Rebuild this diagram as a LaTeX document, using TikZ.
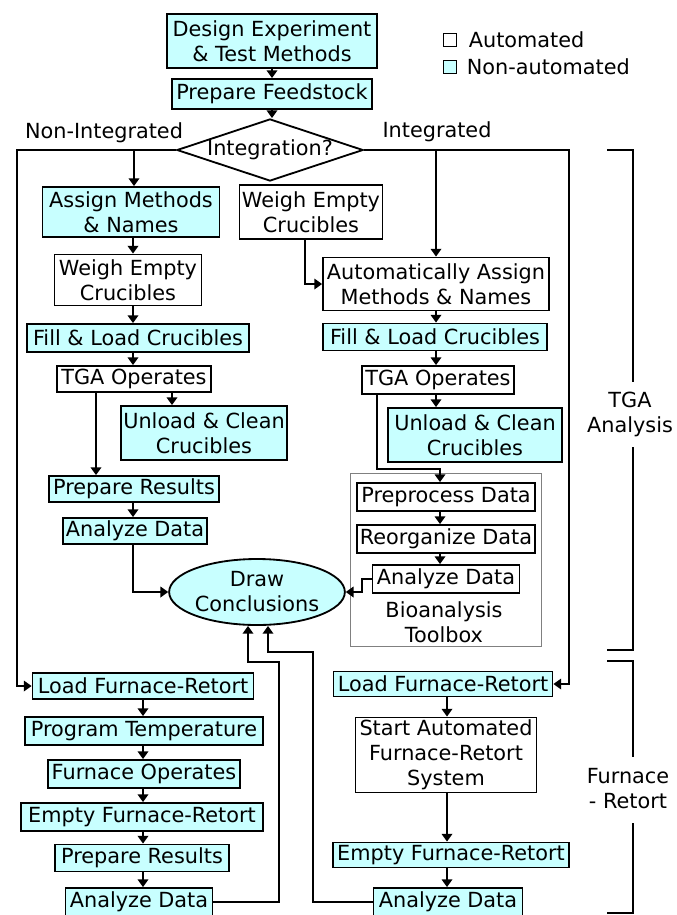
\documentclass[tikz,border=0pt]{standalone}
\usepackage{fontspec}
\setmainfont{DejaVu Sans}
\usetikzlibrary{arrows.meta,shapes,positioning,calc}
\definecolor{noauto}{RGB}{200,255,255}

\begin{document}
\begin{tikzpicture}[x=0.025cm,y=-0.025cm,
  every node/.style={font=\fontsize{14.8}{17.8}\selectfont},
  box/.style={draw, line width=1.3pt, fill=white, align=center, inner sep=1pt},
  manu/.style={box, fill=noauto},
  sz/.style 2 args={minimum width=#1*0.025cm, minimum height=#2*0.025cm},
  link/.style={line width=1.2pt, black, ->, >={Triangle[length=5.5pt,width=7.5pt]}}]
\useasboundingbox (0,0) rectangle (677,915);

% legende
\node[draw, line width=0.8pt, inner sep=0pt, sz={13}{13}] (kauto) at (450,40) {};
\node[draw, line width=0.8pt, inner sep=0pt, fill=noauto, sz={13}{13}] (kman) at (450,67) {};
\node[right=0.17cm of kauto] (tauto) {Automated};
\node[right=0.12cm of kman] (tman) {Non-automated};

% debut
\node[manu, sz={210}{54}] (design) at (272,41) {Design Experiment\\\& Test Methods};
\node[manu, sz={200}{30}] (feed) at (272,94) {Prepare Feedstock};
\node[box, diamond, aspect=3, inner sep=0pt, sz={185}{59}] (integ) at (270,150) {Integration?};
\node[] (lnon) at (104,133) {Non-Integrated};
\node[] (lint) at (437,132) {Integrated};

% tga non integre
\node[manu, sz={177}{50}] (assign) at (131,212) {Assign Methods\\\& Names};
\node[box, sz={147}{51}] (weighL) at (128,280) {Weigh Empty\\Crucibles};
\node[manu, sz={222}{28}] (fillL) at (138,338) {Fill \& Load Crucibles};
\node[box, sz={154}{26}] (tgaL) at (134,379) {TGA Operates};
\node[manu, sz={166}{54}] (unloadL) at (204,433) {Unload \& Clean\\Crucibles};
\node[manu, sz={170}{26}] (prepL) at (134,489) {Prepare Results};
\node[manu, sz={144}{26}] (anaL) at (135,531) {Analyze Data};

% conclusions
\node[manu, ellipse, inner sep=0pt, sz={165}{66}] (concl) at (257,592) {Draw\\Conclusions};

% tga integre
\node[box, sz={143}{54}] (weighR) at (311,212) {Weigh Empty\\Crucibles};
\node[box, sz={226}{53}] (autoas) at (436,284) {Automatically Assign\\Methods \& Names};
\node[manu, sz={224}{27}] (fillR) at (435,337) {Fill \& Load Crucibles};
\node[box, sz={152}{28}] (tgaR) at (438,380) {TGA Operates};
\node[manu, sz={174}{54}] (unloadR) at (475,435) {Unload \& Clean\\Crucibles};

% cadre toolbox
\node[draw=gray, line width=0.6pt, inner sep=0pt, sz={191}{173}] (toolbox) at (445.5,559.5) {};
\node[box, sz={178}{28}] (prepro) at (446,497) {Preprocess Data};
\node[box, sz={178}{28}] (reorg) at (446,539) {Reorganize Data};
\node[box, sz={147}{28}] (anaT) at (446,579) {Analyze Data};
\node[align=center] (tbx) at (444,622) {Bioanalysis\\Toolbox};

% four non integre
\node[manu, sz={221}{26}] (loadL) at (143,686) {Load Furnace-Retort};
\node[manu, sz={238}{28}] (prog) at (144,731) {Program Temperature};
\node[manu, sz={192}{28}] (furnop) at (144,774) {Furnace Operates};
\node[manu, sz={242}{28}] (emptyL) at (142,817) {Empty Furnace-Retort};
\node[manu, sz={174}{27}] (prepL2) at (142,858) {Prepare Results};
\node[manu, sz={147}{28}] (anaL2) at (139,902) {Analyze Data};

% four integre
\node[manu, sz={219}{25}] (loadR) at (443,684) {Load Furnace-Retort};
\node[box, sz={181}{75}] (startA) at (446,755) {Start Automated\\Furnace-Retort\\System};
\node[manu, sz={236}{25}] (emptyR) at (451,855) {Empty Furnace-Retort};
\node[manu, sz={149}{28}] (anaR) at (448,902) {Analyze Data};

% colonnes des fleches
\coordinate (cl) at (133,0);
\coordinate (cu) at (172,0);
\coordinate (cp) at (96,0);
\coordinate (cr) at (436,0);
\coordinate (ct) at (440,0);
\coordinate (cf) at (143,0);
\coordinate (cg) at (447,0);

% haut
\draw[link] (design) -- (feed);
\draw[link] (feed.south) -- (feed.south |- integ.north);

% branches de la decision
\coordinate (nl) at (17,150);
\coordinate (nr) at (569,150);
\coordinate (bl) at (134,150);
\coordinate (br) at (436,150);
\draw[link] (integ.west) -- (nl) |- (loadL.west);
\draw[link] (integ.east) -- (nr) |- (loadR.east);
\draw[link] (bl) -- (bl |- assign.north);
\draw[link] (br) -- (autoas.north);
\draw[link] ($(weighR.south)+(-6,0)$) |- (autoas.west);

% fleches tga non integre
\draw[link] (assign.south -| cl) -- (weighL.north -| cl);
\draw[link] (weighL.south -| cl) -- (fillL.north -| cl);
\draw[link] (fillL.south -| cl) -- (tgaL.north -| cl);
\draw[link] (tgaL.south -| cu) -- (unloadL.north -| cu);
\draw[link] (tgaL.south -| cp) -- (prepL.north -| cp);
\draw[link] (prepL.south -| cl) -- (anaL.north -| cl);
\draw[link] (anaL.south -| cl) |- (concl.west);

% fleches tga integre
\draw[link] (autoas.south -| cr) -- (fillR.north -| cr);
\draw[link] (fillR.south -| cr) -- (tgaR.north -| cr);
\draw[link] (tgaR.south -| cr) -- (unloadR.north -| cr);
\coordinate (jr1) at (377,469);
\coordinate (jr2) at (440,469);
\draw[link] (tgaR.south -| jr1) -- (jr1) -- (jr2) -- (prepro.north -| jr2);
\draw[link] (prepro.south -| ct) -- (reorg.north -| ct);
\draw[link] (reorg.south -| ct) -- (anaT.north -| ct);
\coordinate (jt) at (362,592);
\draw[link] (anaT.west) -| (jt) -- (concl.east);

% fleches four
\draw[link] (loadL.south -| cf) -- (prog.north -| cf);
\draw[link] (prog.south -| cf) -- (furnop.north -| cf);
\draw[link] (furnop.south -| cf) -- (emptyL.north -| cf);
\draw[link] (emptyL.south -| cf) -- (prepL2.north -| cf);
\draw[link] (prepL2.south -| cf) -- (anaL2.north -| cf);
\draw[link] (loadR.south -| cg) -- (startA.north -| cg);
\draw[link] (startA.south -| cg) -- (emptyR.north -| cg);
\draw[link] (emptyR.south -| cg) -- (anaR.north -| cg);

% retour vers conclusions
\coordinate (jl1) at (279,662);
\coordinate (jl2) at (248,662);
\draw[link] (anaL2.east) -| (jl1) -- (jl2) -- (concl.south -| jl2);
\coordinate (jq1) at (313,652);
\coordinate (jq2) at (268,652);
\draw[link] (anaR.west) -| (jq1) -- (jq2) -- (concl.south -| jq2);

% accolades
\node[align=center] (ltga) at (630,414) {TGA\\Analysis};
\draw[line width=2pt] (607,150) -- (633,150) -- (633,382);
\draw[line width=2pt] (633,447) -- (633,650) -- (607,650);
\node[align=center] (lfur) at (628,789) {Furnace\\- Retort};
\draw[line width=2pt] (607,661) -- (633,661) -- (633,757);
\draw[line width=2pt] (633,823) -- (633,913) -- (607,913);

\end{tikzpicture}
\end{document}
